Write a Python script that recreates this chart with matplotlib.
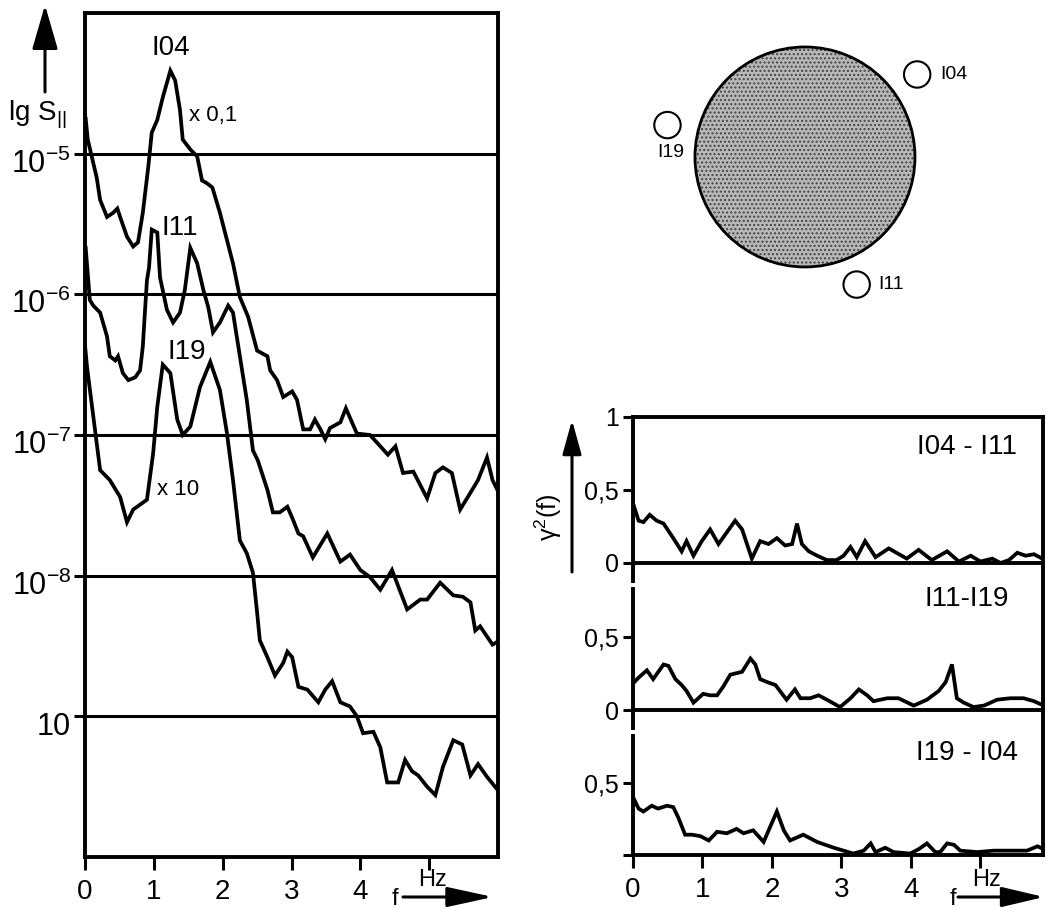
import matplotlib
matplotlib.use('Agg')
import numpy as np
import matplotlib.pyplot as plt
from matplotlib.patches import Circle
from matplotlib.transforms import ScaledTranslation

plt.rcParams['font.family'] = ['Liberation Sans', 'DejaVu Sans']
plt.rcParams['mathtext.default'] = 'regular'

W, H = 1046, 909

# --- power spectra (left), lg S vs f in Hz ---
f_i04 = [0.01, 0.04, 0.17, 0.22, 0.32, 0.41, 0.47, 0.51, 0.61, 0.70, 0.77, 0.84, 0.92, 0.97,
         1.05, 1.13, 1.24, 1.31, 1.38, 1.42, 1.53, 1.63, 1.70, 1.77, 1.85, 1.96, 2.15, 2.25,
         2.37, 2.50, 2.65, 2.69, 2.79, 2.88, 3.01, 3.08, 3.17, 3.27, 3.34, 3.42, 3.49, 3.56,
         3.71, 3.79, 3.95, 4.14, 4.29, 4.40, 4.51, 4.62, 4.77, 4.97, 5.09, 5.20, 5.33, 5.45,
         5.60, 5.71, 5.84, 5.92, 5.99]
lg_i04 = [-4.75, -4.90, -5.17, -5.33, -5.45, -5.42, -5.39, -5.45, -5.59, -5.66, -5.63, -5.42,
          -5.09, -4.85, -4.76, -4.60, -4.41, -4.48, -4.69, -4.90, -4.97, -5.02, -5.19, -5.21,
          -5.24, -5.42, -5.78, -6.02, -6.16, -6.40, -6.44, -6.54, -6.61, -6.73, -6.69, -6.75,
          -6.96, -6.96, -6.89, -6.96, -7.03, -6.95, -6.91, -6.81, -6.99, -7.00, -7.08, -7.14,
          -7.08, -7.27, -7.26, -7.45, -7.27, -7.23, -7.27, -7.53, -7.41, -7.32, -7.16, -7.32,
          -7.39]

f_i11 = [0.01, 0.07, 0.12, 0.22, 0.32, 0.36, 0.44, 0.48, 0.55, 0.63, 0.73, 0.80, 0.84, 0.87,
         0.90, 0.93, 0.97, 1.05, 1.09, 1.19, 1.28, 1.38, 1.45, 1.53, 1.63, 1.72, 1.79, 1.86,
         1.96, 2.08, 2.15, 2.25, 2.35, 2.44, 2.51, 2.65, 2.73, 2.83, 2.94, 3.02, 3.10, 3.17,
         3.31, 3.52, 3.71, 3.85, 4.00, 4.14, 4.29, 4.46, 4.68, 4.87, 4.97, 5.16, 5.35, 5.49,
         5.60, 5.67, 5.74, 5.92, 5.99]
lg_i11 = [-5.67, -6.04, -6.08, -6.13, -6.30, -6.44, -6.47, -6.44, -6.56, -6.61, -6.59, -6.54,
          -6.37, -6.13, -5.90, -5.81, -5.54, -5.56, -5.88, -6.11, -6.20, -6.13, -5.97, -5.67,
          -5.78, -5.97, -6.09, -6.27, -6.20, -6.08, -6.13, -6.44, -6.75, -7.11, -7.18, -7.39,
          -7.55, -7.55, -7.51, -7.60, -7.70, -7.72, -7.87, -7.70, -7.90, -7.85, -7.96, -8.01,
          -8.10, -7.96, -8.24, -8.17, -8.17, -8.05, -8.14, -8.15, -8.19, -8.39, -8.36, -8.49,
          -8.47]

f_i19 = [0.00, 0.03, 0.22, 0.36, 0.51, 0.61, 0.70, 0.90, 0.99, 1.05, 1.13, 1.24, 1.34, 1.42,
         1.53, 1.67, 1.82, 1.96, 2.06, 2.15, 2.25, 2.35, 2.44, 2.50, 2.54, 2.65, 2.76, 2.88,
         2.94, 3.01, 3.10, 3.23, 3.39, 3.49, 3.59, 3.71, 3.85, 3.95, 4.04, 4.19, 4.29, 4.39,
         4.55, 4.65, 4.75, 4.84, 4.97, 5.09, 5.20, 5.35, 5.48, 5.60, 5.71, 5.84, 5.99]
lg_i19 = [-6.36, -6.52, -7.25, -7.32, -7.44, -7.62, -7.53, -7.46, -7.13, -6.80, -6.50, -6.56,
          -6.89, -7.00, -6.94, -6.66, -6.48, -6.68, -6.98, -7.32, -7.75, -7.84, -7.98, -8.26,
          -8.46, -8.58, -8.71, -8.62, -8.54, -8.58, -8.79, -8.81, -8.90, -8.81, -8.75, -8.90,
          -8.93, -9.00, -9.12, -9.11, -9.22, -9.47, -9.47, -9.31, -9.39, -9.42, -9.50, -9.56,
          -9.36, -9.17, -9.20, -9.42, -9.34, -9.43, -9.52]

lg_ticks = [-5, -6, -7, -8, -9]
lg_labels = [r'$10^{-5}$', r'$10^{-6}$', r'$10^{-7}$', r'$10^{-8}$', '10']
f_ticks = [0, 1, 2, 3, 4, 5]
f_labels = ['0', '1', '2', '3', '4', '']

# --- coherence (right) ---
f_c1 = [0.00, 0.08, 0.15, 0.24, 0.34, 0.44, 0.58, 0.70, 0.77, 0.87, 0.99, 1.11, 1.23, 1.35,
        1.47, 1.57, 1.71, 1.83, 1.95, 2.07, 2.19, 2.29, 2.36, 2.43, 2.53, 2.65, 2.79, 2.93,
        3.03, 3.13, 3.22, 3.34, 3.49, 3.68, 3.94, 4.11, 4.30, 4.52, 4.69, 4.86, 5.00, 5.17,
        5.29, 5.41, 5.53, 5.65, 5.77, 5.89]
c1 = [0.41, 0.29, 0.28, 0.33, 0.29, 0.27, 0.17, 0.08, 0.15, 0.05, 0.15, 0.23, 0.13, 0.21,
      0.29, 0.23, 0.03, 0.15, 0.13, 0.17, 0.12, 0.13, 0.27, 0.13, 0.08, 0.05, 0.02, 0.02,
      0.05, 0.11, 0.04, 0.15, 0.04, 0.10, 0.03, 0.09, 0.02, 0.08, 0.01, 0.05, 0.01, 0.03,
      0.00, 0.02, 0.07, 0.05, 0.06, 0.03]

f_c2 = [0.00, 0.08, 0.20, 0.29, 0.44, 0.51, 0.61, 0.70, 0.77, 0.87, 1.01, 1.11, 1.21, 1.30,
        1.40, 1.57, 1.69, 1.76, 1.83, 1.93, 2.05, 2.21, 2.33, 2.41, 2.55, 2.67, 2.79, 2.98,
        3.13, 3.25, 3.37, 3.46, 3.66, 3.82, 4.04, 4.23, 4.40, 4.50, 4.59, 4.66, 4.76, 4.90,
        5.05, 5.24, 5.43, 5.62, 5.77, 5.91]
c2 = [0.18, 0.22, 0.27, 0.21, 0.31, 0.30, 0.21, 0.17, 0.13, 0.05, 0.11, 0.10, 0.10, 0.16,
      0.24, 0.26, 0.35, 0.31, 0.21, 0.19, 0.17, 0.07, 0.14, 0.08, 0.08, 0.10, 0.07, 0.02,
      0.08, 0.14, 0.10, 0.06, 0.08, 0.08, 0.03, 0.07, 0.13, 0.19, 0.31, 0.08, 0.05, 0.02,
      0.03, 0.07, 0.08, 0.08, 0.06, 0.03]

f_c3 = [0.00, 0.08, 0.15, 0.27, 0.36, 0.49, 0.58, 0.65, 0.75, 0.85, 0.97, 1.09, 1.21, 1.35,
        1.49, 1.59, 1.73, 1.88, 1.97, 2.07, 2.17, 2.26, 2.45, 2.65, 2.89, 3.17, 3.32, 3.42,
        3.49, 3.63, 3.75, 3.99, 4.11, 4.23, 4.35, 4.42, 4.52, 4.62, 4.71, 4.95, 5.19, 5.43,
        5.67, 5.82, 5.91]
c3 = [0.40, 0.32, 0.30, 0.34, 0.32, 0.34, 0.33, 0.26, 0.14, 0.14, 0.13, 0.10, 0.16, 0.15,
      0.18, 0.15, 0.17, 0.09, 0.19, 0.30, 0.17, 0.10, 0.14, 0.09, 0.05, 0.01, 0.03, 0.08,
      0.02, 0.05, 0.02, 0.01, 0.04, 0.08, 0.02, 0.02, 0.08, 0.07, 0.03, 0.02, 0.03, 0.03,
      0.03, 0.06, 0.04]

pair_names = ['I04 - I11', 'I11-I19', 'I19 - I04']

# --- sensor layout (big circle radius = 1) ---
sensor_names = ['I04', 'I19', 'I11']
sensor_x = [1.02, -1.25, 0.47]
sensor_y = [0.75, 0.29, -1.16]

LW = 2.7


def fig_px(x, y):
    return (x, H - y)


def arrow(p0, p1, hl, hw):
    # hl, hw in pixels (head length, half head width)
    k = 10 * 100 / 72.0
    plt.annotate('', xy=fig_px(*p1), xytext=fig_px(*p0),
                 xycoords='figure pixels', textcoords='figure pixels',
                 arrowprops=dict(arrowstyle=f'-|>,head_length={hl / k:.3f},head_width={hw / k:.3f}',
                                 lw=2.2, color='k', shrinkA=0, shrinkB=0,
                                 mutation_scale=10))


fig = plt.figure(figsize=(W / 100, H / 100), dpi=100)

# ---------------- left: spectra ----------------
ax = fig.add_axes([85 / W, 1 - 857 / H, 413 / W, 844 / H])
ax.set_yscale('log')
ax.set_xlim(0, 6)
ax.set_ylim(1e-10, 1e-4)
for lg in lg_ticks:
    ax.axhline(10.0 ** lg, color='k', lw=2.2)
for fv, lg in [(f_i04, lg_i04), (f_i11, lg_i11), (f_i19, lg_i19)]:
    ax.plot(fv, 10.0 ** np.array(lg), color='k', lw=LW, solid_joinstyle='miter')
ax.set_yticks([10.0 ** v for v in lg_ticks])
ax.set_yticklabels(lg_labels, fontsize=22)
ax.yaxis.set_minor_locator(matplotlib.ticker.NullLocator())
ax.set_xticks(f_ticks)
ax.set_xticklabels(f_labels, fontsize=20)
ax.tick_params(axis='y', length=8, width=2.2, pad=2)
ax.tick_params(axis='x', length=9, width=2.2, pad=7)
for s in ax.spines.values():
    s.set_linewidth(2.8)
shift = ScaledTranslation(0, -0.07, fig.dpi_scale_trans)
for t in ax.get_yticklabels():
    t.set_transform(t.get_transform() + shift)

ax.text(1.24, 10 ** -4.25, 'I04', fontsize=20, ha='center', va='center')
ax.text(1.86, 10 ** -4.73, 'x 0,1', fontsize=16, ha='center', va='center')
ax.text(1.38, 10 ** -5.53, 'I11', fontsize=20, ha='center', va='center')
ax.text(1.48, 10 ** -6.41, 'I19', fontsize=20, ha='center', va='center')
ax.text(1.35, 10 ** -7.39, 'x 10', fontsize=16, ha='center', va='center')

fig.text(37 / W, 1 - 115 / H, r'lg S$_{||}$', fontsize=20, ha='center', va='center')
arrow((45, 92), (45, 5), 38, 11)
fig.text(432 / W, 1 - 880 / H, 'Hz', fontsize=17, ha='center', va='center')
fig.text(395 / W, 1 - 899 / H, 'f', fontsize=17, ha='center', va='center')
arrow((403, 897), (493, 897), 39, 8.5)

# ---------------- right: coherence ----------------
tops = [417, 563, 710]
bots = [563, 710, 855]
curves = [(f_c1, c1), (f_c2, c2), (f_c3, c3)]
for i in range(3):
    a = fig.add_axes([633 / W, 1 - bots[i] / H, 410 / W, (bots[i] - tops[i]) / H])
    a.patch.set_alpha(0)
    a.set_xlim(0, 5.9)
    a.set_ylim(0, 1)
    a.plot(curves[i][0], curves[i][1], color='k', lw=LW, solid_joinstyle='miter')
    for s in a.spines.values():
        s.set_linewidth(2.8)
    if i == 0:
        a.set_yticks([0, 0.5, 1])
        a.set_yticklabels(['0', '0,5', '1'], fontsize=18)
    elif i == 1:
        a.set_yticks([0, 0.5])
        a.set_yticklabels(['0', '0,5'], fontsize=18)
    else:
        a.set_yticks([0, 0.5])
        a.set_yticklabels(['', '0,5'], fontsize=18)
    if i > 0:
        a.spines['top'].set_visible(False)
        a.spines['left'].set_bounds(0, 0.82)
        a.plot([0, 0], [0.865, 1.0], transform=a.transAxes, color='k', lw=2.8,
               clip_on=False, solid_capstyle='butt')
    if i < 2:
        a.set_xticks([])
    else:
        a.set_xticks(f_ticks)
        a.set_xticklabels(f_labels, fontsize=20)
        a.tick_params(axis='x', length=9, width=2.2, pad=7)
    a.tick_params(axis='y', length=7, width=2.2, pad=3)
    a.text(0.815, [0.795, 0.753, 0.70][i], pair_names[i], transform=a.transAxes,
           fontsize=20, ha='center', va='center')

fig.text(548 / W, 1 - 517 / H, r'$\gamma^2$(f)', fontsize=18, rotation=90,
         ha='center', va='center')
arrow((572, 572), (572, 420), 29, 8)
fig.text(986 / W, 1 - 880 / H, 'Hz', fontsize=17, ha='center', va='center')
fig.text(953 / W, 1 - 899 / H, 'f', fontsize=17, ha='center', va='center')
arrow((958, 897), (1044, 897), 36, 8.5)

# ---------------- sensor layout ----------------
ad = fig.add_axes([580 / W, 1 - 330 / H, 466 / W, 330 / H])
ad.set_xlim(-2.045, 2.191)
ad.set_ylim(-1.573, 1.427)
ad.set_aspect('equal')
ad.axis('off')
ad.add_patch(Circle((0, 0), 1.0, facecolor='#b8b8b8', edgecolor='#444444',
                    hatch='....', lw=0))
ad.add_patch(Circle((0, 0), 1.0, fill=False, edgecolor='k', lw=2.0))
for name, sx, sy in zip(sensor_names, sensor_x, sensor_y):
    ad.add_patch(Circle((sx, sy), 0.12, fill=False, edgecolor='k', lw=1.5))
lab_dx = [0.33, 0.03, 0.31]
lab_dy = [0.0, -0.25, 0.0]
for name, sx, sy, dx, dy in zip(sensor_names, sensor_x, sensor_y, lab_dx, lab_dy):
    ad.text(sx + dx, sy + dy, name, fontsize=14, ha='center', va='center')

fig.savefig('out.png', dpi=100)
